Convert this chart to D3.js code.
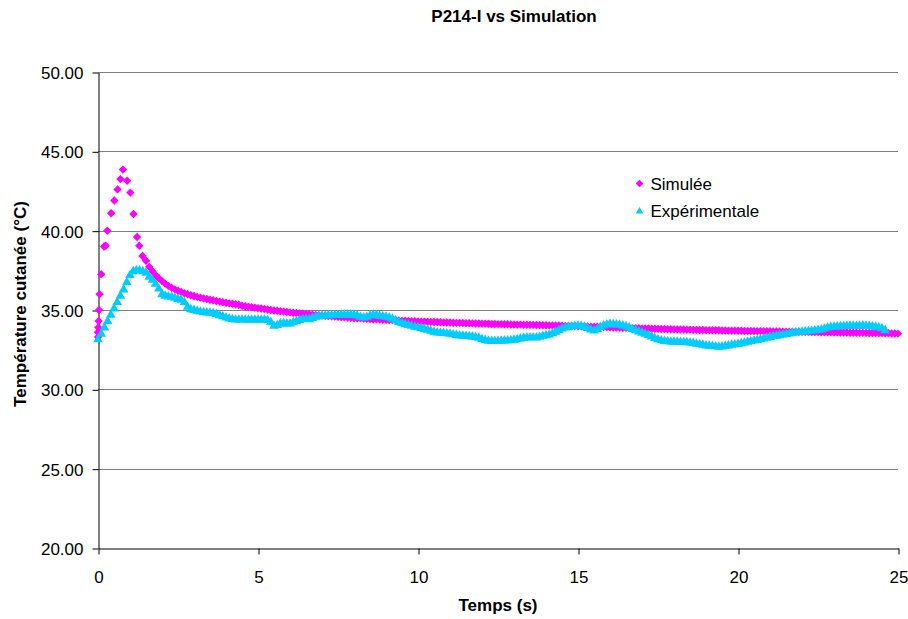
<!DOCTYPE html>
<html>
<head>
<meta charset="utf-8">
<script src="https://cdn.jsdelivr.net/npm/d3@7/dist/d3.min.js"></script>
<style>
  body { margin: 0; background: #fff; }
  svg { display: block; font-family: 'Liberation Sans', Arial, sans-serif; }
</style>
</head>
<body>
<svg id="chart" width="908" height="619"></svg>
<script>
var title = 'P214-I vs Simulation',
    xTitle = 'Temps (s)',
    yTitle = 'Température cutanée (°C)',
    seriesNames = ['Simulée', 'Expérimentale'];

var xTicks = [0, 5, 10, 15, 20, 25],
    yTicks = [20, 25, 30, 35, 40, 45, 50];

// simulated: first points (irregular steps) as [t, T]
var simEarly = [
  [0, 33.30], [0, 33.60], [0.01, 33.90], [0.02, 34.30], [0.03, 35.00], [0.05, 36.00],
  [0.10, 37.25], [0.19, 39.00], [0.24, 39.05], [0.29, 40.00], [0.41, 41.10], [0.51, 41.90],
  [0.61, 42.60], [0.70, 43.25], [0.78, 43.85], [0.91, 43.15], [1.01, 42.40], [1.11, 41.05],
  [1.22, 39.60], [1.29, 39.05], [1.39, 38.40]
];

// simulated: from 1.5 s, one point every 0.1 s
var simStart = 1.5, simStep = 0.1;
var simTemp = [
  38.10, 37.72, 37.45, 37.20, 37.00, 36.82, 36.66, 36.52, 36.40, 36.30,
  36.21, 36.13, 36.06, 35.99, 35.93, 35.88, 35.83, 35.78, 35.73, 35.69,
  35.65, 35.61, 35.57, 35.53, 35.49, 35.46, 35.42, 35.39, 35.36, 35.33,
  35.27, 35.24, 35.21, 35.18, 35.15, 35.12, 35.09, 35.06, 35.03, 35.00,
  34.97, 34.95, 34.92, 34.90, 34.87, 34.85, 34.83, 34.81, 34.79, 34.77,
  34.75, 34.73, 34.71, 34.69, 34.67, 34.65, 34.63, 34.62, 34.60, 34.58,
  34.57, 34.55, 34.54, 34.52, 34.51, 34.49, 34.48, 34.47, 34.46, 34.44,
  34.43, 34.42, 34.41, 34.40, 34.39, 34.38, 34.37, 34.36, 34.35, 34.34,
  34.33, 34.32, 34.31, 34.30, 34.29, 34.28, 34.27, 34.27, 34.26, 34.25,
  34.24, 34.24, 34.23, 34.22, 34.21, 34.21, 34.20, 34.19, 34.19, 34.18,
  34.17, 34.17, 34.16, 34.15, 34.15, 34.14, 34.14, 34.13, 34.12, 34.12,
  34.11, 34.11, 34.10, 34.10, 34.09, 34.09, 34.08, 34.08, 34.07, 34.07,
  34.06, 34.06, 34.05, 34.05, 34.04, 34.04, 34.03, 34.03, 34.02, 34.02,
  34.01, 34.00, 34.00, 33.99, 33.99, 33.98, 33.97, 33.97, 33.96, 33.95,
  33.95, 33.94, 33.93, 33.93, 33.92, 33.91, 33.90, 33.90, 33.89, 33.88,
  33.88, 33.87, 33.86, 33.86, 33.85, 33.84, 33.84, 33.83, 33.82, 33.82,
  33.81, 33.80, 33.80, 33.79, 33.79, 33.78, 33.78, 33.77, 33.77, 33.76,
  33.76, 33.75, 33.75, 33.74, 33.74, 33.73, 33.73, 33.72, 33.72, 33.72,
  33.71, 33.71, 33.70, 33.70, 33.70, 33.69, 33.69, 33.68, 33.68, 33.68,
  33.67, 33.67, 33.67, 33.66, 33.66, 33.66, 33.65, 33.65, 33.65, 33.64,
  33.64, 33.64, 33.63, 33.63, 33.63, 33.62, 33.62, 33.62, 33.61, 33.61,
  33.61, 33.60, 33.60, 33.60, 33.59, 33.59, 33.59, 33.58, 33.58, 33.58,
  33.57, 33.57, 33.57, 33.56, 33.56, 33.56, 33.55, 33.55, 33.55, 33.54,
  33.54, 33.53, 33.53, 33.52, 33.52, 33.51
];

// measured: from 0 s, one point every 0.1 s
var expStart = 0, expStep = 0.1;
var expTemp = [
  33.20, 33.55, 33.95, 34.35, 34.75, 35.15, 35.55, 35.95, 36.35, 36.80,
  37.25, 37.50, 37.55, 37.55, 37.50, 37.40, 37.15, 36.95, 36.70, 36.40,
  36.05, 35.95, 35.90, 35.88, 35.82, 35.75, 35.70, 35.55, 35.25, 35.10,
  35.05, 35.00, 34.95, 34.92, 34.90, 34.88, 34.85, 34.80, 34.72, 34.65,
  34.58, 34.52, 34.48, 34.45, 34.45, 34.45, 34.45, 34.44, 34.45, 34.45,
  34.44, 34.45, 34.45, 34.42, 34.30, 34.05, 34.10, 34.20, 34.22, 34.20,
  34.20, 34.28, 34.35, 34.42, 34.48, 34.48, 34.47, 34.55, 34.62, 34.66,
  34.68, 34.70, 34.72, 34.72, 34.73, 34.74, 34.75, 34.75, 34.74, 34.75,
  34.75, 34.70, 34.62, 34.58, 34.62, 34.70, 34.75, 34.74, 34.68, 34.65,
  34.63, 34.58, 34.50, 34.40, 34.30, 34.22, 34.16, 34.10, 34.05, 34.00,
  33.96, 33.92, 33.86, 33.80, 33.74, 33.68, 33.64, 33.62, 33.60, 33.58,
  33.56, 33.52, 33.48, 33.45, 33.43, 33.42, 33.40, 33.38, 33.35, 33.30,
  33.22, 33.16, 33.12, 33.10, 33.10, 33.11, 33.12, 33.13, 33.14, 33.15,
  33.18, 33.22, 33.26, 33.30, 33.32, 33.33, 33.33, 33.32, 33.36, 33.42,
  33.46, 33.50, 33.58, 33.68, 33.78, 33.88, 33.94, 33.98, 34.02, 34.05,
  34.06, 34.05, 34.00, 33.92, 33.82, 33.76, 33.85, 33.98, 34.08, 34.14,
  34.17, 34.16, 34.14, 34.12, 34.08, 34.02, 33.95, 33.86, 33.78, 33.70,
  33.62, 33.55, 33.48, 33.38, 33.28, 33.20, 33.14, 33.10, 33.08, 33.06,
  33.05, 33.05, 33.04, 33.03, 33.02, 33.00, 32.97, 32.93, 32.90, 32.86,
  32.82, 32.80, 32.78, 32.76, 32.74, 32.75, 32.78, 32.82, 32.86, 32.89,
  32.92, 32.96, 33.00, 33.05, 33.09, 33.13, 33.16, 33.20, 33.25, 33.30,
  33.35, 33.40, 33.43, 33.46, 33.50, 33.53, 33.57, 33.61, 33.64, 33.66,
  33.68, 33.70, 33.72, 33.74, 33.77, 33.79, 33.82, 33.88, 33.94, 33.98,
  34.00, 34.02, 34.03, 34.04, 34.05, 34.06, 34.06, 34.05, 34.06, 34.08,
  34.06, 34.05, 34.02, 34.00, 33.96, 33.90, 33.78
];

var colors = ['#ff00ff', '#00ccff'];

var
  svg = d3.select('#chart'),
  xScale = d3.scaleLinear().domain([0, 25]).range([98, 898]),
  yScale = d3.scaleLinear().domain([20, 50]).range([548, 72]),
  diamond = 'M0,-3.8L3.8,0L0,3.8L-3.8,0Z',
  triangle = 'M0,-3.6L3.8,3L-3.8,3Z',
  bigDiamond = 'M0,-4.2L4.2,0L0,4.2L-4.2,0Z',
  bigTriangle = 'M0,-4.6L4.8,3.8L-4.8,3.8Z'
  ;

var simData = simEarly.map(function(d){ return {t: d[0], v: d[1]}; })
  .concat(simTemp.map(function(v, i){ return {t: simStart + i * simStep, v: v}; }));
var expData = expTemp.map(function(v, i){ return {t: expStart + i * expStep, v: v}; });

svg.append('rect').attr('width', 908).attr('height', 619).attr('fill', '#fff');

// gridlines
svg.append('g')
  .selectAll('line')
  .data(yTicks.filter(function(d){ return d > 20; }))
  .enter().append('line')
  .attr('x1', 98).attr('x2', 898)
  .attr('y1', function(d){ return Math.round(yScale(d)) + 0.5; })
  .attr('y2', function(d){ return Math.round(yScale(d)) + 0.5; })
  .attr('stroke', '#808080')
  .attr('stroke-width', 1);

// axes
var yAxis = svg.append('g')
  .attr('transform', 'translate(98.5,0.5)')
  .call(d3.axisLeft(yScale).tickValues(yTicks).tickFormat(d3.format('.2f')).tickSize(6).tickPadding(9).tickSizeOuter(0));

var xAxis = svg.append('g')
  .attr('transform', 'translate(0.5,548.5)')
  .call(d3.axisBottom(xScale).tickValues(xTicks).tickFormat(d3.format('d')).tickSize(6).tickPadding(16).tickSizeOuter(0));

[yAxis, xAxis].forEach(function(a){
  a.select('.domain').attr('stroke', '#000');
  a.selectAll('.tick line').attr('stroke', '#000');
  a.selectAll('.tick text')
    .attr('fill', '#000')
    .style('font-size', '17px')
    .style('font-family', "'Liberation Sans', Arial, sans-serif");
});
yAxis.selectAll('.tick text').attr('dy', '0.36em');

// series: simulated first, measured on top
svg.append('g')
  .selectAll('path')
  .data(simData)
  .enter().append('path')
  .attr('d', bigDiamond)
  .attr('fill', colors[0])
  .attr('transform', function(d){ return 'translate(' + xScale(d.t) + ',' + yScale(d.v) + ')'; });

svg.append('g')
  .selectAll('path')
  .data(expData)
  .enter().append('path')
  .attr('d', bigTriangle)
  .attr('fill', colors[1])
  .attr('transform', function(d){ return 'translate(' + xScale(d.t) + ',' + yScale(d.v) + ')'; });

// titles
svg.append('text')
  .attr('x', 514).attr('y', 22)
  .attr('text-anchor', 'middle')
  .style('font-size', '17px').style('font-weight', 'bold')
  .text(title);

svg.append('text')
  .attr('x', 498).attr('y', 611)
  .attr('text-anchor', 'middle')
  .style('font-size', '17px').style('font-weight', 'bold')
  .text(xTitle);

svg.append('text')
  .attr('transform', 'translate(26,304) rotate(-90)')
  .attr('text-anchor', 'middle')
  .style('font-size', '17px').style('font-weight', 'bold')
  .text(yTitle);

// legend
var legend = svg.append('g')
  .selectAll('g')
  .data(seriesNames)
  .enter().append('g')
  .attr('transform', function(d, i){ return 'translate(639.5,' + (183.5 + i * 27) + ')'; });

legend.append('path')
  .attr('d', function(d, i){ return i === 0 ? diamond : triangle; })
  .attr('fill', function(d, i){ return colors[i]; });

legend.append('text')
  .attr('x', 11).attr('y', 6)
  .style('font-size', '17px')
  .text(function(d){ return d; });
</script>
</body>
</html>
